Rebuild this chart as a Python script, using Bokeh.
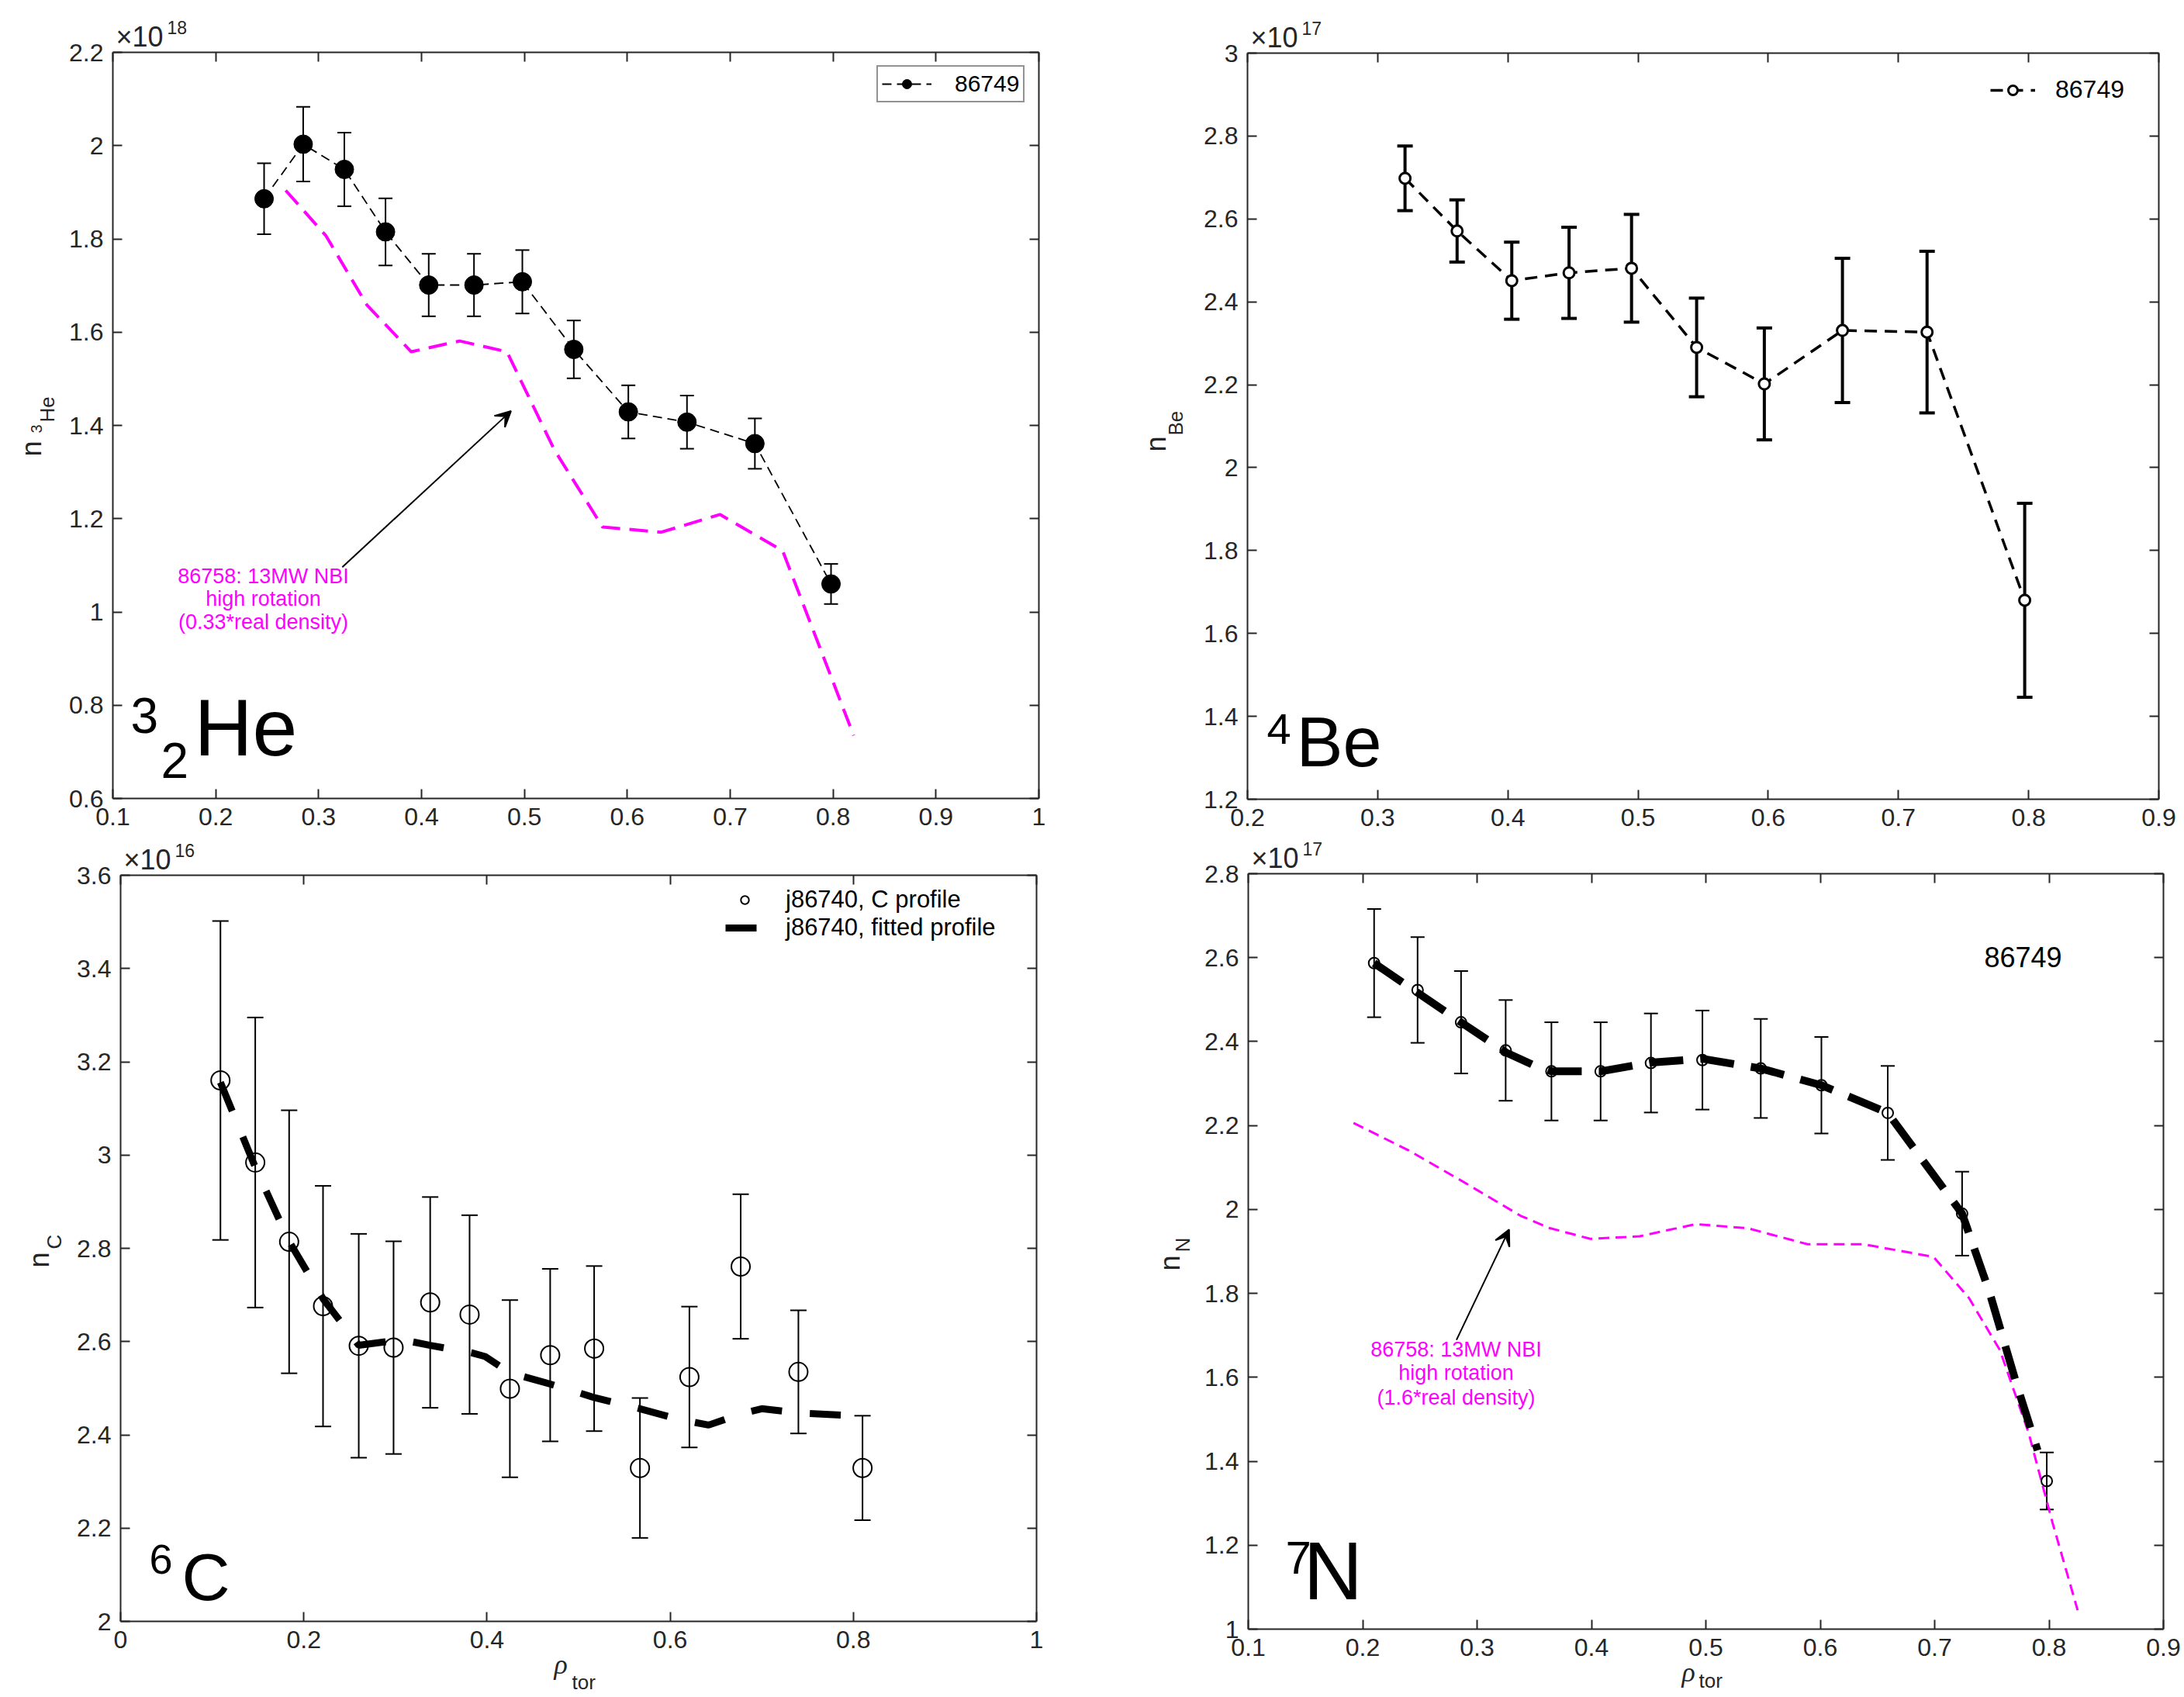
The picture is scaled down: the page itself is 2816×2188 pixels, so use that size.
import numpy as np
from bokeh.plotting import figure
from bokeh.models import (ColumnDataSource, Whisker, TeeHead, Label, Arrow, VeeHead,
                          LinearAxis, FixedTicker, CustomJSTickFormatter, Range1d,
                          Legend, LegendItem)
from bokeh.layouts import row, column
from bokeh.embed import file_html
from bokeh.resources import INLINE

FONT = "Liberation Sans"
AXC = "#262626"
MAG = "#FF00FF"

# ---------------- data (densities in units of the axis multiplier) ----------------
# Panel 1: 3He, x1e18
he_rho = [0.247, 0.285, 0.325, 0.365, 0.407, 0.451, 0.498, 0.548, 0.601, 0.658, 0.724, 0.798]
he_n = [1.886, 2.003, 1.949, 1.815, 1.701, 1.701, 1.708, 1.563, 1.429, 1.407, 1.361, 1.060]
he_err = [0.076, 0.080, 0.079, 0.072, 0.067, 0.067, 0.068, 0.062, 0.057, 0.057, 0.054, 0.043]
he_sim_rho = [0.268, 0.307, 0.347, 0.390, 0.437, 0.483, 0.529, 0.576, 0.633, 0.690, 0.751, 0.820]
he_sim_n = [1.904, 1.807, 1.658, 1.558, 1.581, 1.558, 1.348, 1.182, 1.171, 1.209, 1.131, 0.735]

# Panel 2: Be, x1e17
be_rho = [0.321, 0.361, 0.403, 0.447, 0.495, 0.545, 0.597, 0.657, 0.722, 0.797]
be_n = [2.698, 2.571, 2.451, 2.470, 2.481, 2.290, 2.202, 2.331, 2.327, 1.680]
be_err = [0.078, 0.075, 0.093, 0.110, 0.130, 0.119, 0.135, 0.174, 0.195, 0.234]

# Panel 3: C, x1e16
c_rho = [0.109, 0.147, 0.184, 0.221, 0.260, 0.298, 0.338, 0.381, 0.425, 0.469, 0.517, 0.567,
         0.621, 0.677, 0.740, 0.810]
c_n = [3.160, 2.984, 2.814, 2.676, 2.591, 2.587, 2.684, 2.658, 2.499, 2.571, 2.585, 2.329,
       2.524, 2.761, 2.535, 2.329]
c_err = [0.342, 0.311, 0.282, 0.258, 0.240, 0.228, 0.226, 0.213, 0.190, 0.185, 0.177, 0.150,
         0.151, 0.155, 0.132, 0.112]
c_fit_rho = [0.109, 0.147, 0.184, 0.221, 0.260, 0.307, 0.338, 0.383, 0.398, 0.425, 0.469, 0.517,
             0.567, 0.610, 0.642, 0.677, 0.700, 0.740, 0.802]
c_fit_n = [3.156, 2.974, 2.815, 2.692, 2.592, 2.604, 2.592, 2.576, 2.568, 2.533, 2.509, 2.480,
           2.456, 2.433, 2.421, 2.445, 2.456, 2.447, 2.441]

# Panel 4: N, x1e17
n_rho = [0.210, 0.248, 0.286, 0.325, 0.365, 0.408, 0.452, 0.497, 0.548, 0.601, 0.659, 0.724, 0.798]
n_n = [2.587, 2.523, 2.446, 2.379, 2.329, 2.329, 2.349, 2.356, 2.336, 2.296, 2.230, 1.990, 1.353]
n_err = [0.129, 0.126, 0.122, 0.120, 0.117, 0.117, 0.118, 0.118, 0.118, 0.115, 0.112, 0.100, 0.068]
n_fit_rho = [0.210, 0.286, 0.326, 0.350, 0.365, 0.408, 0.452, 0.497, 0.548, 0.601, 0.632, 0.659,
             0.724, 0.748, 0.772, 0.790]
n_fit_n = [2.587, 2.446, 2.373, 2.343, 2.329, 2.329, 2.350, 2.359, 2.336, 2.296, 2.261, 2.230,
           1.990, 1.802, 1.580, 1.426]
n_sim_rho = [0.192, 0.240, 0.286, 0.338, 0.363, 0.399, 0.442, 0.491, 0.537, 0.589, 0.638, 0.699,
             0.730, 0.757, 0.782, 0.803, 0.825]
n_sim_n = [2.206, 2.141, 2.069, 1.985, 1.956, 1.930, 1.936, 1.965, 1.955, 1.917, 1.917, 1.887,
           1.789, 1.665, 1.469, 1.254, 1.045]

# ---------------- ticks ----------------
p1_xt = [0.1, 0.2, 0.3, 0.4, 0.5, 0.6, 0.7, 0.8, 0.9, 1.0]
p1_xl = ["0.1", "0.2", "0.3", "0.4", "0.5", "0.6", "0.7", "0.8", "0.9", "1"]
p1_yt = [0.6, 0.8, 1.0, 1.2, 1.4, 1.6, 1.8, 2.0, 2.2]
p1_yl = ["0.6", "0.8", "1", "1.2", "1.4", "1.6", "1.8", "2", "2.2"]
p2_xt = [0.2, 0.3, 0.4, 0.5, 0.6, 0.7, 0.8, 0.9]
p2_xl = ["0.2", "0.3", "0.4", "0.5", "0.6", "0.7", "0.8", "0.9"]
p2_yt = [1.2, 1.4, 1.6, 1.8, 2.0, 2.2, 2.4, 2.6, 2.8, 3.0]
p2_yl = ["1.2", "1.4", "1.6", "1.8", "2", "2.2", "2.4", "2.6", "2.8", "3"]
p3_xt = [0.0, 0.2, 0.4, 0.6, 0.8, 1.0]
p3_xl = ["0", "0.2", "0.4", "0.6", "0.8", "1"]
p3_yt = [2.0, 2.2, 2.4, 2.6, 2.8, 3.0, 3.2, 3.4, 3.6]
p3_yl = ["2", "2.2", "2.4", "2.6", "2.8", "3", "3.2", "3.4", "3.6"]
p4_xt = [0.1, 0.2, 0.3, 0.4, 0.5, 0.6, 0.7, 0.8, 0.9]
p4_xl = ["0.1", "0.2", "0.3", "0.4", "0.5", "0.6", "0.7", "0.8", "0.9"]
p4_yt = [1.0, 1.2, 1.4, 1.6, 1.8, 2.0, 2.2, 2.4, 2.6, 2.8]
p4_yl = ["1", "1.2", "1.4", "1.6", "1.8", "2", "2.2", "2.4", "2.6", "2.8"]

MID = 0.39  # baseline sits this many em below a text_baseline="middle" anchor
ROW_SPLIT = 1076  # page y where the bottom row of figures starts


def fmt(tv, tl):
    return CustomJSTickFormatter(args=dict(tv=tv, tl=tl), code="""
        for (let i = 0; i < tv.length; i++) { if (Math.abs(tv[i] - tick) < 1e-6) return tl[i]; }
        return '';""")


class Panel:
    """Figure whose frame is the whole canvas; the axes box is drawn with fixed-location axes."""

    def __init__(self, fx, fy, w, h, box, xd, yd):
        self.fx, self.fy, self.w, self.h = fx, fy, w, h
        self.bx0, self.by0, self.bx1, self.by1 = box
        self.xd, self.yd = xd, yd
        self.p = figure(width=w, height=h, min_border=0,
                        x_range=Range1d(self.X(fx), self.X(fx + w)),
                        y_range=Range1d(self.Y(fy + h), self.Y(fy)),
                        x_axis_location=None, y_axis_location=None,
                        output_backend="svg", toolbar_location=None)
        self.p.grid.visible = False
        self.p.outline_line_color = None

    def X(self, px):
        return self.xd[0] + (px - self.bx0) * (self.xd[1] - self.xd[0]) / (self.bx1 - self.bx0)

    def Y(self, py):
        return self.yd[0] + (self.by1 - py) * (self.yd[1] - self.yd[0]) / (self.by1 - self.by0)

    def axes(self, xt, xl, yt, yl):
        x0, x1 = self.xd
        y0, y1 = self.yd
        for place, loc, ticks, labels, bounds in [("below", y0, xt, xl, (x0, x1)),
                                                  ("above", y1, xt, None, (x0, x1)),
                                                  ("left", x0, yt, yl, (y0, y1)),
                                                  ("right", x1, yt, None, (y0, y1))]:
            lab = labels if labels is not None else [""] * len(ticks)
            ax = LinearAxis(fixed_location=loc, bounds=bounds,
                            ticker=FixedTicker(ticks=ticks), formatter=fmt(ticks, lab))
            ax.axis_line_color = AXC
            ax.axis_line_width = 2
            ax.major_tick_line_color = AXC
            ax.major_tick_line_width = 2
            ax.major_tick_in = 12
            ax.major_tick_out = 0
            ax.minor_tick_line_color = None
            ax.major_label_text_font = FONT
            ax.major_label_text_color = AXC
            if labels is not None:
                ax.major_label_text_font_size = "32px"
                ax.major_label_standoff = 12
            else:
                ax.major_label_text_font_size = "1px"
                ax.major_label_standoff = 0
            self.p.add_layout(ax, place)

    def text(self, px, baseline_py, text, size, color="black", font=FONT, style="normal"):
        self.p.add_layout(Label(x=self.X(px), y=self.Y(baseline_py - MID * size), text=text,
                                text_font=font, text_font_size=f"{size}px", text_font_style=style,
                                text_color=color, text_align="left", text_baseline="middle"))

    def vtext(self, baseline_px, start_py, text, size, color=AXC):
        # text rotated 90 degrees, reading bottom to top
        self.p.add_layout(Label(x=self.X(baseline_px - MID * size), y=self.Y(start_py), text=text,
                                angle=np.pi / 2, text_font=FONT, text_font_size=f"{size}px",
                                text_color=color, text_align="left", text_baseline="middle"))

    def ctext(self, cx, cy, text, size, color):
        self.p.add_layout(Label(x=self.X(cx), y=self.Y(cy + 0.03 * size), text=text,
                                text_font=FONT, text_font_size=f"{size}px", text_color=color,
                                text_align="center", text_baseline="middle"))

    def multiplier(self, exp):
        self.text(self.bx0 + 4, self.by0 - 6, "\u00d710", 36, color=AXC)
        self.text(self.bx0 + 70, self.by0 - 23, exp, 23, color=AXC)

    def errbars(self, x, y, e, width, cap):
        y = np.array(y)
        e = np.array(e)
        src = ColumnDataSource(dict(x=x, lo=y - e, hi=y + e))
        self.p.add_layout(Whisker(source=src, base="x", lower="lo", upper="hi",
                                  line_color="black", line_width=width,
                                  upper_head=TeeHead(size=cap, line_color="black", line_width=width),
                                  lower_head=TeeHead(size=cap, line_color="black", line_width=width)))

    def legend_at(self, items, left_px, top_px, height, **kw):
        loc = (left_px - self.fx, (self.fy + self.h) - (top_px + height))
        lg = Legend(items=items, location=loc, margin=0, label_text_font=FONT,
                    label_text_color="black", **kw)
        self.p.add_layout(lg)


# ---------------- Panel 1: 3He ----------------
P1 = Panel(0, 0, 1408, ROW_SPLIT, (145, 67, 1339, 1029), (0.1, 1.0), (0.6, 2.2))
P1.axes(p1_xt, p1_xl, p1_yt, p1_yl)
p1 = P1.p
P1.errbars(he_rho, he_n, he_err, 2, 18)
l1 = p1.line(he_rho, he_n, line_color="black", line_width=1.8, line_dash="12 7")
s1 = p1.scatter(he_rho, he_n, marker="circle", size=24, fill_color="black", line_color="black")
p1.line(he_sim_rho, he_sim_n, line_color=MAG, line_width=4, line_dash="24 12")
p1.add_layout(Arrow(end=VeeHead(size=20, line_color="black", fill_color="black", line_width=2),
                    x_start=0.323, y_start=1.096, x_end=0.487, y_end=1.431,
                    line_color="black", line_width=2))
for txt, cy in [("86758: 13MW NBI", 742), ("high rotation", 771), ("(0.33*real density)", 801)]:
    P1.ctext(339, cy, txt, 27, MAG)
P1.legend_at([LegendItem(label="86749", renderers=[l1, s1])], 1130, 88, 44,
             padding=5, spacing=0, glyph_width=64, glyph_height=30, label_standoff=30,
             label_text_font_size="30px", border_line_color=AXC, border_line_width=2,
             background_fill_color="white", background_fill_alpha=1.0)
P1.multiplier("18")
P1.vtext(54, 588, "n", 36)
P1.vtext(54, 558, "3", 20)
P1.vtext(71, 544, "He", 26)
P1.text(168, 947, "3", 64)
P1.text(207, 1005, "2", 64)
P1.text(250, 978, "He", 104)

# ---------------- Panel 2: Be ----------------
P2 = Panel(1408, 0, 1404, ROW_SPLIT, (1608, 68, 2783, 1030), (0.2, 0.9), (1.2, 3.0))
P2.axes(p2_xt, p2_xl, p2_yt, p2_yl)
p2 = P2.p
P2.errbars(be_rho, be_n, be_err, 4, 20)
l2 = p2.line(be_rho, be_n, line_color="black", line_width=3.5, line_dash="16 10")
s2 = p2.scatter(be_rho, be_n, marker="circle", size=14, fill_color="white", line_color="black",
                line_width=3)
P2.legend_at([LegendItem(label="86749", renderers=[l2, s2])], 2566, 90, 44,
             padding=5, spacing=0, glyph_width=58, glyph_height=30, label_standoff=26,
             label_text_font_size="32px", border_line_color=None, background_fill_alpha=0.0)
P2.multiplier("17")
P2.vtext(1504, 582, "n", 36)
P2.vtext(1526, 561, "Be", 26)
P2.text(1633, 961, "4", 56)
P2.text(1671, 992, "Be", 90)

# ---------------- Panel 3: C ----------------
P3 = Panel(0, ROW_SPLIT, 1408, 2184 - ROW_SPLIT, (155, 1128, 1336, 2090), (0.0, 1.0), (2.0, 3.6))
P3.axes(p3_xt, p3_xl, p3_yt, p3_yl)
p3 = P3.p
P3.errbars(c_rho, c_n, c_err, 2, 21)
s3 = p3.scatter(c_rho, c_n, marker="circle", size=24, fill_color="white", fill_alpha=0.0,
                line_color="black", line_width=2)
l3 = p3.line(c_fit_rho, c_fit_n, line_color="black", line_width=9, line_dash="40 36")
P3.legend_at([LegendItem(label="j86740, C profile", renderers=[s3]),
              LegendItem(label="j86740, fitted profile", renderers=[l3])], 935, 1150, 64,
             padding=5, spacing=-7, glyph_width=50, glyph_height=26, label_standoff=28,
             label_text_font_size="31px", border_line_color=None, background_fill_alpha=0.0)
P3.multiplier("16")
P3.vtext(64, 1634, "n", 36)
P3.vtext(80, 1610, "C", 26)
P3.text(714, 2160, "\u03c1", 36, color=AXC, font="Liberation Serif", style="italic")
P3.text(737, 2179, "tor", 26, color=AXC)
P3.text(192, 2031, "6", 54)
P3.text(234, 2066, "C", 86)

# ---------------- Panel 4: N ----------------
P4 = Panel(1408, ROW_SPLIT, 1404, 2184 - ROW_SPLIT, (1609, 1126, 2789, 2100), (0.1, 0.9), (1.0, 2.8))
P4.axes(p4_xt, p4_xl, p4_yt, p4_yl)
p4 = P4.p
P4.errbars(n_rho, n_n, n_err, 2, 18)
p4.line(n_sim_rho, n_sim_n, line_color=MAG, line_width=3, line_dash="14 8")
p4.scatter(n_rho, n_n, marker="circle", size=14, fill_color="white", fill_alpha=0.0,
           line_color="black", line_width=2)
p4.line(n_fit_rho, n_fit_n, line_color="black", line_width=10, line_dash="44 22")
p4.add_layout(Arrow(end=VeeHead(size=20, line_color="black", fill_color="black", line_width=2),
                    x_start=0.282, y_start=1.689, x_end=0.328, y_end=1.952,
                    line_color="black", line_width=2))
for txt, cy in [("86758: 13MW NBI", 1739), ("high rotation", 1769), ("(1.6*real density)", 1801)]:
    P4.ctext(1877, cy, txt, 27, MAG)
P4.text(2558, 1248, "86749", 36)
P4.multiplier("17")
P4.vtext(1522, 1638, "n", 36)
P4.vtext(1535, 1614, "N", 26)
P4.text(2168, 2170, "\u03c1", 36, color=AXC, font="Liberation Serif", style="italic")
P4.text(2190, 2177, "tor", 26, color=AXC)
P4.text(1657, 2031, "7", 60)
P4.text(1680, 2066, "N", 106)

layout = row(column(p1, p3), column(p2, p4))
open("out.html", "w").write(file_html(layout, INLINE))
